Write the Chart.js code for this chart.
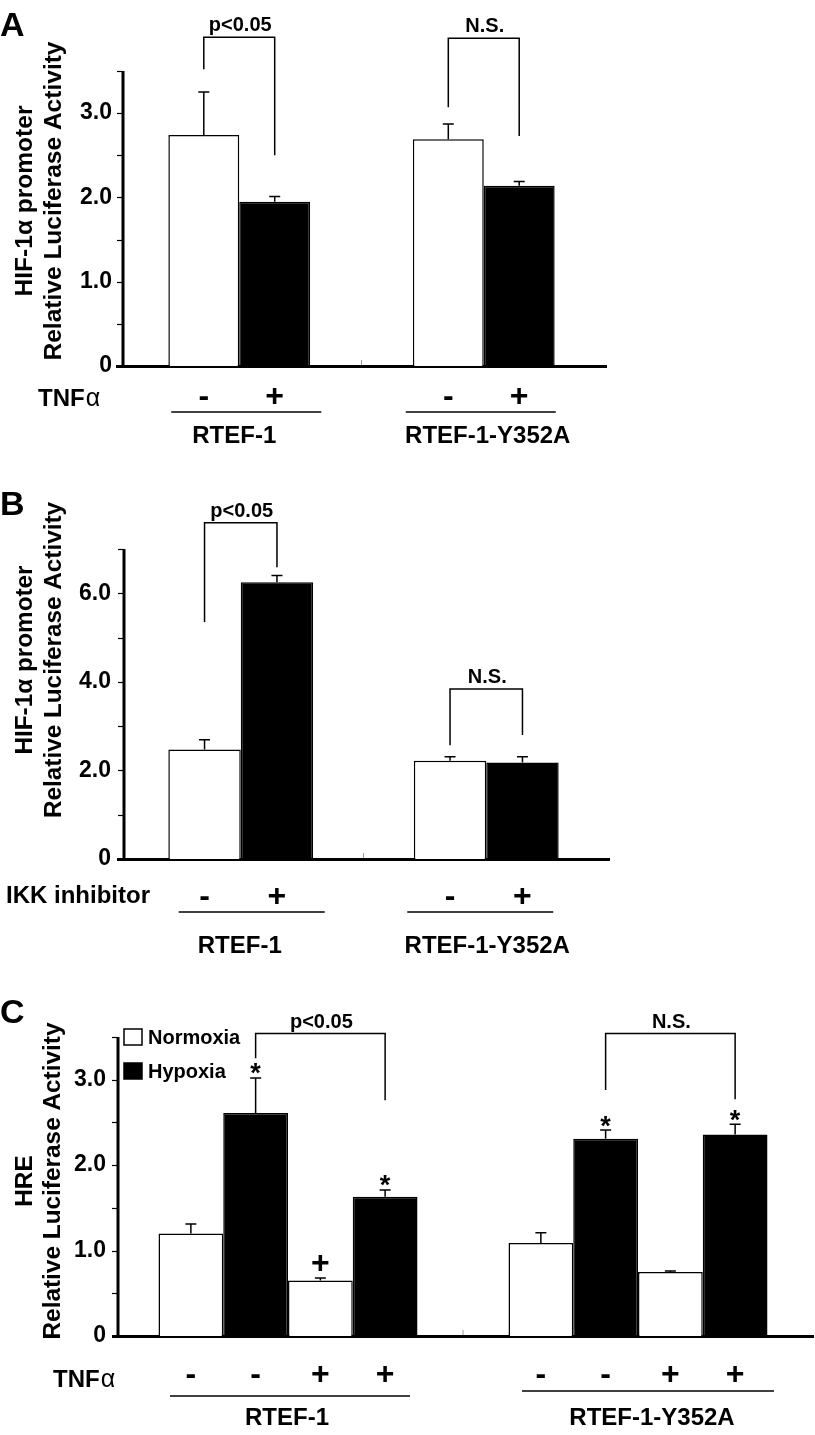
<!DOCTYPE html>
<html>
<head>
<meta charset="utf-8">
<script src="https://cdn.jsdelivr.net/npm/chart.js@4.4.1/dist/chart.umd.min.js"></script>
<style>
  html, body { margin: 0; padding: 0; background: #fff; }
  #wrap { position: relative; width: 815px; height: 1435px; }
  canvas { position: absolute; left: 0; }
</style>
</head>
<body>
<div id="wrap">
  <canvas id="chartA" width="815" height="460" style="top:0px"></canvas>
  <canvas id="chartB" width="815" height="500" style="top:460px"></canvas>
  <canvas id="chartC" width="815" height="475" style="top:960px"></canvas>
</div>
<script>
const groups = ['RTEF-1', 'RTEF-1-Y352A'];

// Panel A - HIF-1a promoter, TNFa -/+
const aMinus = [2.74, 2.69];
const aMinusErr = [0.51, 0.18];
const aPlus = [1.95, 2.14];
const aPlusErr = [0.06, 0.05];
const aTickLabels = ['0', '1.0', '2.0', '3.0'];

// Panel B - HIF-1a promoter, IKK inhibitor -/+
const bMinus = [2.47, 2.22];
const bMinusErr = [0.22, 0.09];
const bPlus = [6.25, 2.18];
const bPlusErr = [0.15, 0.13];
const bTickLabels = ['0', '2.0', '4.0', '6.0'];

// Panel C - HRE, normoxia / hypoxia, TNFa -/+
const cNormoxia = [1.20, 1.09];
const cNormoxiaErr = [0.11, 0.12];
const cHypoxia = [2.61, 2.31];
const cHypoxiaErr = [0.41, 0.10];
const cNormoxiaTnf = [0.65, 0.75];
const cNormoxiaTnfErr = [0.03, 0.01];
const cHypoxiaTnf = [1.63, 2.36];
const cHypoxiaTnfErr = [0.08, 0.12];
const cTickLabels = ['0', '1.0', '2.0', '3.0'];
const cMarks = [['', ''], ['*', '*'], ['+', ''], ['*', '*']];

const FONT = "'Liberation Sans', Arial, sans-serif";

function font(size, weight) {
  return (weight || 'bold') + ' ' + size + 'px ' + FONT;
}

// everything that Chart.js does not draw itself: y axis line, error bars, brackets, row labels
function makeExtras(p) {
  return {
    id: 'extras' + p.letter,
    afterDatasetsDraw(chart) {
      const ctx = chart.ctx;
      const ys = chart.scales.y, xs = chart.scales.x;
      const ca = chart.chartArea;
      const barAt = (di, i) => chart.getDatasetMeta(di).data[i];
      const valAt = (di, i) => chart.data.datasets[di].data[i];

      ctx.save();
      ctx.strokeStyle = '#000';
      ctx.fillStyle = '#000';
      ctx.lineCap = 'butt';

      // y axis sits a little right of where the category axis starts
      ctx.lineWidth = 3;
      ctx.beginPath();
      ctx.moveTo(p.axisX, ca.top);
      ctx.lineTo(p.axisX, ca.bottom + 1.5);
      ctx.stroke();
      ctx.lineWidth = 1.2;
      ys.ticks.forEach(t => {
        const y = Math.round(ys.getPixelForValue(t.value)) + 0.5;
        ctx.beginPath();
        ctx.moveTo(p.axisX - 6, y);
        ctx.lineTo(p.axisX, y);
        ctx.stroke();
      });

      // faint tick between the two groups
      const mid = (xs.getPixelForValue(0) + xs.getPixelForValue(1)) / 2;
      ctx.lineWidth = 1;
      ctx.strokeStyle = '#999';
      ctx.beginPath();
      ctx.moveTo(mid, ca.bottom - 1);
      ctx.lineTo(mid, ca.bottom - 6);
      ctx.stroke();
      ctx.strokeStyle = '#000';

      // y title, stretched along its length like the original
      ctx.font = font(p.titleSize);
      const k = p.titleLen / ctx.measureText(p.yTitle[p.yTitle.length - 1]).width;
      p.yTitle.forEach((t, j) => {
        ctx.save();
        ctx.translate(p.titleX[j], p.titleY);
        ctx.rotate(-Math.PI / 2);
        ctx.scale(k, 1);
        ctx.textAlign = 'center';
        ctx.textBaseline = 'middle';
        ctx.fillText(t, 0, 0);
        ctx.restore();
      });

      // error bars (upper only)
      ctx.lineWidth = 1.5;
      p.errors.forEach((errs, di) => {
        errs.forEach((e, i) => {
          const bar = barAt(di, i);
          const y0 = ys.getPixelForValue(valAt(di, i));
          const y1 = ys.getPixelForValue(valAt(di, i) + e);
          ctx.beginPath();
          ctx.moveTo(bar.x, y0);
          ctx.lineTo(bar.x, y1);
          ctx.moveTo(bar.x - 5.5, y1);
          ctx.lineTo(bar.x + 5.5, y1);
          ctx.stroke();
        });
      });

      // significance marks above error bars
      ctx.textAlign = 'center';
      ctx.textBaseline = 'middle';
      (p.marks || []).forEach((row, di) => {
        row.forEach((m, i) => {
          if (!m) return;
          const bar = barAt(di, i);
          const yTop = ys.getPixelForValue(valAt(di, i) + p.errors[di][i]);
          if (m === '*') {
            ctx.font = font(27);
            ctx.fillText('*', bar.x, yTop - 3);
          } else {
            ctx.font = font(32);
            ctx.fillText(m, bar.x, yTop - 14);
          }
        });
      });

      // brackets
      ctx.lineWidth = 1.5;
      p.brackets.forEach(b => {
        const xa = barAt(b.from[0], b.from[1]).x;
        const xb = barAt(b.to[0], b.to[1]).x;
        const yt = ys.getPixelForValue(b.top);
        ctx.beginPath();
        ctx.moveTo(xa, ys.getPixelForValue(b.endFrom));
        ctx.lineTo(xa, yt);
        ctx.lineTo(xb, yt);
        ctx.lineTo(xb, ys.getPixelForValue(b.endTo));
        ctx.stroke();
        ctx.font = font(20);
        ctx.textBaseline = 'alphabetic';
        ctx.fillText(b.text, (xa + xb) / 2 + 1, yt - 6);
      });

      // treatment signs under each bar
      ctx.textBaseline = 'middle';
      ctx.font = font(32);
      p.signs.forEach((s, di) => {
        groups.forEach((g, i) => {
          ctx.fillText(s, barAt(di, i).x, ca.bottom + p.signDy);
        });
      });

      // treatment name at left
      ctx.textAlign = 'left';
      ctx.textBaseline = 'alphabetic';
      ctx.font = font(24);
      ctx.fillText(p.factor, p.factorX, ca.bottom + p.factorDy);
      if (p.alpha) {
        const w = ctx.measureText(p.factor).width;
        ctx.font = font(25, 'normal');
        ctx.fillText('\u03b1', p.factorX + w + 1, ca.bottom + p.factorDy);
      }

      // group lines and names
      ctx.lineWidth = 1.5;
      ctx.textAlign = 'center';
      ctx.font = font(24);
      groups.forEach((g, i) => {
        const cx = xs.getPixelForValue(i);
        const lx = cx + p.lineShift[i];
        ctx.beginPath();
        ctx.moveTo(lx - p.lineHalf[i], ca.bottom + p.lineDy[i]);
        ctx.lineTo(lx + p.lineHalf[i], ca.bottom + p.lineDy[i]);
        ctx.stroke();
        ctx.fillText(g, cx + p.nameShift[i], ca.bottom + p.nameDy);
      });

      // panel letter
      ctx.textAlign = 'left';
      ctx.font = font(34);
      ctx.fillText(p.letter, 0, p.letterY);

      // legend (panel C)
      if (p.legend) {
        ctx.font = font(20);
        p.legend.forEach(l => {
          ctx.fillStyle = l.fill;
          ctx.fillRect(124, l.y, 18, 16);
          ctx.strokeStyle = '#000';
          ctx.lineWidth = 1.5;
          ctx.strokeRect(124, l.y, 18, 16);
          ctx.fillStyle = '#000';
          ctx.fillText(l.text, 148, l.y + 15);
        });
      }
      ctx.restore();
    }
  };
}

function buildChart(id, p) {
  const datasets = p.series.map(s => ({
    label: s.label,
    data: s.data,
    backgroundColor: s.fill,
    borderColor: '#000',
    borderWidth: 1.5,
    borderSkipped: 'start',
    categoryPercentage: p.catPct,
    barPercentage: 1
  }));

  return new Chart(document.getElementById(id), {
    type: 'bar',
    data: { labels: groups, datasets: datasets },
    options: {
      responsive: false,
      animation: false,
      devicePixelRatio: 1,
      layout: { padding: { left: 0, top: p.area.top, right: 815 - p.area.right, bottom: 0 } },
      plugins: { legend: { display: false }, tooltip: { enabled: false } },
      scales: {
        x: {
          offset: true,
          grid: { display: false },
          border: { display: true, width: 3, color: '#000' },
          ticks: { display: false },
          afterFit: s => { s.height = p.height - p.area.bottom; }
        },
        y: {
          min: 0,
          max: p.yMax,
          border: { display: false },
          grid: { display: false, drawTicks: false },
          ticks: {
            stepSize: p.yStep,
            autoSkip: false,
            padding: p.tickPad,
            color: '#000',
            font: { family: FONT, size: 23, weight: 'bold' },
            callback: v => p.tickLabels.find(t => parseFloat(t) === v) || ''
          },
          afterFit: s => { s.width = p.area.left; }
        }
      }
    },
    plugins: [makeExtras(p)]
  });
}

buildChart('chartA', {
  letter: 'A', letterY: 36, height: 460,
  area: { left: 117, top: 71, right: 606, bottom: 366 }, axisX: 123, tickPad: 5,
  catPct: 0.58, yMax: 3.5, yStep: 0.5, tickLabels: aTickLabels,
  yTitle: ['HIF-1\u03b1 promoter', 'Relative Luciferase Activity'],
  titleSize: 23, titleLen: 319, titleX: [26, 55], titleY: 201,
  series: [
    { label: 'TNFa -', data: aMinus, fill: '#fff' },
    { label: 'TNFa +', data: aPlus, fill: '#000' }
  ],
  errors: [aMinusErr, aPlusErr],
  brackets: [
    { from: [0, 0], to: [1, 0], top: 3.9, endFrom: 3.52, endTo: 2.5, text: 'p<0.05' },
    { from: [0, 1], to: [1, 1], top: 3.89, endFrom: 3.07, endTo: 2.73, text: 'N.S.' }
  ],
  signs: ['-', '+'], signDy: 31,
  factor: 'TNF', alpha: true, factorX: 38, factorDy: 40,
  lineHalf: [75, 75], lineShift: [7, -3], lineDy: [46, 46], nameShift: [-5, 4], nameDy: 77
});

buildChart('chartB', {
  letter: 'B', letterY: 55, height: 500,
  area: { left: 118, top: 89, right: 609, bottom: 399 }, axisX: 124, tickPad: 7,
  catPct: 0.59, yMax: 7, yStep: 1, tickLabels: bTickLabels,
  yTitle: ['HIF-1\u03b1 promoter', 'Relative Luciferase Activity'],
  titleSize: 23, titleLen: 316, titleX: [26, 55], titleY: 200,
  series: [
    { label: 'IKK inhibitor -', data: bMinus, fill: '#fff' },
    { label: 'IKK inhibitor +', data: bPlus, fill: '#000' }
  ],
  errors: [bMinusErr, bPlusErr],
  brackets: [
    { from: [0, 0], to: [1, 0], top: 7.59, endFrom: 5.35, endTo: 6.59, text: 'p<0.05' },
    { from: [0, 1], to: [1, 1], top: 3.84, endFrom: 2.57, endTo: 2.80, text: 'N.S.' }
  ],
  signs: ['-', '+'], signDy: 38,
  factor: 'IKK inhibitor', alpha: false, factorX: 6, factorDy: 44,
  lineHalf: [73, 73], lineShift: [11, -6], lineDy: [53, 53], nameShift: [-1, 1], nameDy: 94
});

buildChart('chartC', {
  letter: 'C', letterY: 63, height: 475,
  area: { left: 113, top: 77, right: 813, bottom: 376 }, axisX: 118, tickPad: 7,
  catPct: 0.74, yMax: 3.5, yStep: 0.5, tickLabels: cTickLabels,
  yTitle: ['HRE', 'Relative Luciferase Activity'],
  titleSize: 23, titleLen: 317, titleX: [26, 54], titleY: 221,
  series: [
    { label: 'Normoxia', data: cNormoxia, fill: '#fff' },
    { label: 'Hypoxia', data: cHypoxia, fill: '#000' },
    { label: 'Normoxia TNFa', data: cNormoxiaTnf, fill: '#fff' },
    { label: 'Hypoxia TNFa', data: cHypoxiaTnf, fill: '#000' }
  ],
  errors: [cNormoxiaErr, cHypoxiaErr, cNormoxiaTnfErr, cHypoxiaTnfErr],
  marks: cMarks,
  brackets: [
    { from: [1, 0], to: [3, 0], top: 3.54, endFrom: 3.25, endTo: 2.76, text: 'p<0.05' },
    { from: [1, 1], to: [3, 1], top: 3.54, endFrom: 2.88, endTo: 2.77, text: 'N.S.' }
  ],
  signs: ['-', '-', '+', '+'], signDy: 39,
  factor: 'TNF', alpha: true, factorX: 53, factorDy: 51,
  lineHalf: [120, 126], lineShift: [2, 10], lineDy: [60, 55], nameShift: [-1, 14], nameDy: 89,
  legend: [
    { text: 'Normoxia', fill: '#fff', y: 69 },
    { text: 'Hypoxia', fill: '#000', y: 103 }
  ]
});
</script>
</body>
</html>
